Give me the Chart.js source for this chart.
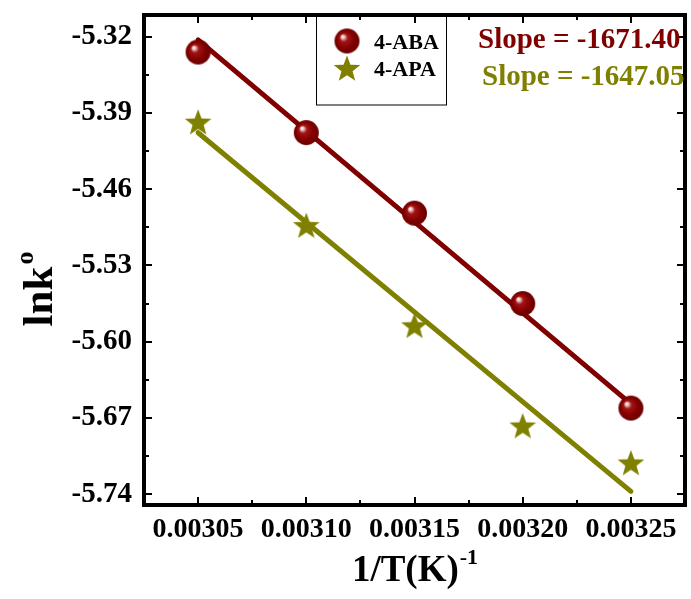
<!DOCTYPE html>
<html>
<head>
<meta charset="utf-8">
<script src="https://cdn.jsdelivr.net/npm/chart.js@4.4.1/dist/chart.umd.min.js"></script>
<style>
  html, body { margin: 0; padding: 0; background: #ffffff; }
  #wrap { width: 691px; height: 599px; }
</style>
</head>
<body>
<div id="wrap"><canvas id="c" width="691" height="599"></canvas></div>
<script>
// Arrhenius data: 1/T against ln k°
const invTemp = [0.00305, 0.00310, 0.00315, 0.00320, 0.00325];
const lnkABA = [-5.334, -5.408, -5.482, -5.565, -5.661];
const lnkAPA = [-5.398, -5.493, -5.585, -5.677, -5.711];
const seriesNames = ['4-ABA', '4-APA'];
const slopes = [-1671.40, -1647.05];
const xTickValues = [0.00305, 0.00310, 0.00315, 0.00320, 0.00325];
const yTickValues = [-5.32, -5.39, -5.46, -5.53, -5.60, -5.67, -5.74];

const RED = '#800000';
const OLIVE = '#808000';
const SERIF = '"Liberation Serif", "Times New Roman", serif';

// straight line of the given slope through the centroid of the points
function fitLine(xs, ys, slope) {
  const mx = xs.reduce((a, b) => a + b, 0) / xs.length;
  const my = ys.reduce((a, b) => a + b, 0) / ys.length;
  return [xs[0], xs[xs.length - 1]].map(x => ({ x: x, y: my + slope * (x - mx) }));
}

function toPoints(xs, ys) { return xs.map((x, i) => ({ x: x, y: ys[i] })); }

// shaded sphere marker
function makeSphere(r) {
  const s = Math.ceil(r * 2 + 2);
  const c = document.createElement('canvas');
  c.width = s; c.height = s;
  const g = c.getContext('2d');
  const cx = s / 2, cy = s / 2;
  const grad = g.createRadialGradient(cx - r * 0.38, cy - r * 0.38, 0, cx, cy, r);
  grad.addColorStop(0, '#ffffff');
  grad.addColorStop(0.12, '#f2d0d0');
  grad.addColorStop(0.32, '#a21414');
  grad.addColorStop(0.7, '#820000');
  grad.addColorStop(1, '#6a0000');
  g.fillStyle = grad;
  g.beginPath(); g.arc(cx, cy, r, 0, Math.PI * 2); g.fill();
  return c;
}

// filled five-pointed star marker
function makeStar(r, color) {
  const s = Math.ceil(r * 2 + 2);
  const c = document.createElement('canvas');
  c.width = s; c.height = s;
  const g = c.getContext('2d');
  const cx = s / 2, cy = s / 2 + r * 0.1;
  const inner = r * 0.42;
  g.beginPath();
  for (let i = 0; i < 10; i++) {
    const rad = i % 2 === 0 ? r : inner;
    const a = -Math.PI / 2 + i * Math.PI / 5;
    const px = cx + rad * Math.cos(a), py = cy + rad * Math.sin(a);
    if (i === 0) g.moveTo(px, py); else g.lineTo(px, py);
  }
  g.closePath();
  g.fillStyle = color;
  g.fill();
  return c;
}

const sphere = makeSphere(12.5);
const star = makeStar(14, OLIVE);

// keep the plot box where the layout padding puts it
function noEdgePadding(s) {
  s.paddingTop = 0; s.paddingBottom = 0; s.paddingLeft = 0; s.paddingRight = 0;
}

const decor = {
  id: 'decor',
  afterDraw(chart) {
    const ctx = chart.ctx;
    const a = chart.chartArea;
    const xs = chart.scales.x, ys = chart.scales.y;
    ctx.save();

    // frame
    ctx.strokeStyle = '#000';
    ctx.lineWidth = 4;
    ctx.lineJoin = 'miter';
    ctx.strokeRect(a.left, a.top, a.right - a.left, a.bottom - a.top);

    // inward tick marks on all four sides (major + minor)
    ctx.lineWidth = 2;
    const xStep = xTickValues[1] - xTickValues[0];
    const yStep = yTickValues[0] - yTickValues[1];
    const xMarks = [];
    xTickValues.forEach(v => { xMarks.push([v, 8]); xMarks.push([v + xStep / 2, 5]); xMarks.push([v - xStep / 2, 5]); });
    const yMarks = [];
    yTickValues.forEach(v => { yMarks.push([v, 8]); yMarks.push([v + yStep / 2, 5]); yMarks.push([v - yStep / 2, 5]); });
    ctx.beginPath();
    xMarks.forEach(([v, len]) => {
      if (v <= xs.min || v >= xs.max) return;
      const px = Math.round(xs.getPixelForValue(v));
      ctx.moveTo(px, a.bottom); ctx.lineTo(px, a.bottom - len);
      ctx.moveTo(px, a.top); ctx.lineTo(px, a.top + len);
    });
    yMarks.forEach(([v, len]) => {
      if (v <= ys.min || v >= ys.max) return;
      const py = Math.round(ys.getPixelForValue(v));
      ctx.moveTo(a.left, py); ctx.lineTo(a.left + len, py);
      ctx.moveTo(a.right, py); ctx.lineTo(a.right - len, py);
    });
    ctx.stroke();

    // legend box
    ctx.lineWidth = 1;
    ctx.strokeRect(316.5, a.top, 130, 105 - a.top);
    ctx.drawImage(sphere, 347 - sphere.width / 2, 41 - sphere.height / 2);
    ctx.drawImage(star, 347 - star.width / 2, 68 - star.height / 2);
    ctx.fillStyle = '#000';
    ctx.font = 'bold 22px ' + SERIF;
    ctx.textAlign = 'left';
    ctx.textBaseline = 'alphabetic';
    ctx.fillText(seriesNames[0], 374, 49);
    ctx.fillText(seriesNames[1], 374, 76);

    // slope annotations
    ctx.font = 'bold 29px ' + SERIF;
    ctx.fillStyle = RED;
    ctx.fillText('Slope = ' + slopes[0].toFixed(2), 478, 48);
    ctx.fillStyle = OLIVE;
    ctx.fillText('Slope = ' + slopes[1].toFixed(2), 482, 85);

    // x axis title with superscript
    ctx.fillStyle = '#000';
    const mainX = '1/T(K)', supX = '-1';
    ctx.font = 'bold 37px ' + SERIF;
    const w1 = ctx.measureText(mainX).width;
    ctx.font = 'bold 22px ' + SERIF;
    const w2 = ctx.measureText(supX).width;
    const sx = (a.left + a.right) / 2 - (w1 + w2) / 2;
    ctx.font = 'bold 37px ' + SERIF;
    ctx.fillText(mainX, sx, 581);
    ctx.font = 'bold 22px ' + SERIF;
    ctx.fillText(supX, sx + w1 + 1, 564);

    // y axis title with superscript, rotated
    const mainY = 'lnk', supY = 'o';
    ctx.translate(52, 290);
    ctx.rotate(-Math.PI / 2);
    ctx.font = 'bold 43px ' + SERIF;
    const w3 = ctx.measureText(mainY).width;
    ctx.font = 'bold 26px ' + SERIF;
    const w4 = ctx.measureText(supY).width;
    ctx.font = 'bold 43px ' + SERIF;
    ctx.fillText(mainY, -(w3 + w4) / 2, 0);
    ctx.font = 'bold 26px ' + SERIF;
    ctx.fillText(supY, -(w3 + w4) / 2 + w3 + 2, -19);

    ctx.restore();
  }
};

new Chart(document.getElementById('c'), {
  type: 'scatter',
  data: {
    datasets: [
      {
        label: seriesNames[0],
        data: toPoints(invTemp, lnkABA),
        pointStyle: sphere,
        pointRadius: 12,
        order: 1
      },
      {
        label: seriesNames[1],
        data: toPoints(invTemp, lnkAPA),
        pointStyle: star,
        pointRadius: 14,
        order: 2
      },
      {
        label: seriesNames[0] + ' fit',
        data: fitLine(invTemp, lnkABA, slopes[0]),
        showLine: true,
        borderColor: RED,
        borderWidth: 5,
        borderCapStyle: 'round',
        pointRadius: 0,
        order: 3
      },
      {
        label: seriesNames[1] + ' fit',
        data: fitLine(invTemp, lnkAPA, slopes[1]),
        showLine: true,
        borderColor: OLIVE,
        borderWidth: 5,
        borderCapStyle: 'round',
        pointRadius: 0,
        order: 4
      }
    ]
  },
  options: {
    responsive: false,
    animation: false,
    devicePixelRatio: 1,
    layout: { autoPadding: false, padding: { top: 15, right: 6, left: 0, bottom: 0 } },
    plugins: { legend: { display: false }, tooltip: { enabled: false } },
    scales: {
      x: {
        type: 'linear',
        min: 0.003025,
        max: 0.003275,
        grid: { display: false, drawTicks: false },
        border: { display: false },
        afterBuildTicks: s => { s.ticks = xTickValues.map(v => ({ value: v })); },
        afterFit: s => { s.height = 94; noEdgePadding(s); },
        ticks: {
          color: '#000',
          padding: 11,
          maxRotation: 0,
          font: { family: SERIF, size: 28, weight: 'bold', lineHeight: 1 },
          callback: v => v.toFixed(5)
        }
      },
      y: {
        type: 'linear',
        min: -5.75,
        max: -5.30,
        grid: { display: false, drawTicks: false },
        border: { display: false },
        afterBuildTicks: s => { s.ticks = yTickValues.map(v => ({ value: v })); },
        afterFit: s => { s.width = 144; noEdgePadding(s); },
        ticks: {
          color: '#000',
          padding: 12,
          font: { family: SERIF, size: 29, weight: 'bold', lineHeight: 1 },
          callback: v => v.toFixed(2)
        }
      }
    }
  },
  plugins: [decor]
});
</script>
</body>
</html>
